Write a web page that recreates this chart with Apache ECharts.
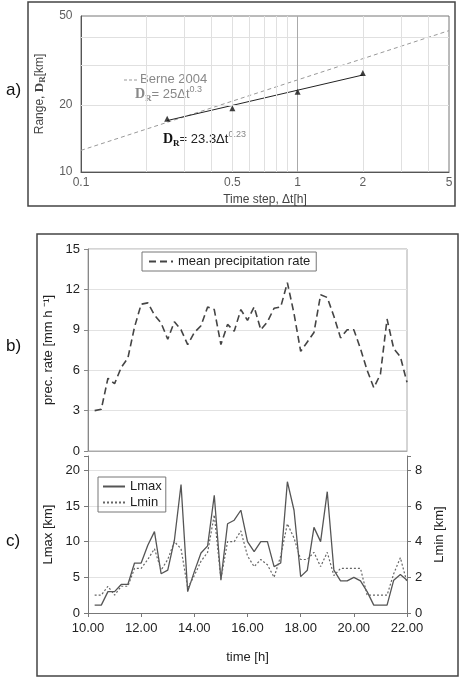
<!DOCTYPE html>
<html>
<head>
<meta charset="utf-8">
<script src="https://cdn.jsdelivr.net/npm/echarts@6/dist/echarts.min.js"></script>
<style>
html,body{margin:0;padding:0;background:#fff;}
#chart{width:465px;height:683px;}
</style>
</head>
<body>
<div id="chart"></div>
<script>
// a) range vs time step (log-log)
const stepTicks = [0.1, 0.5, 1, 2, 5];
const stepMinor = [0.2, 0.3, 0.4, 0.5, 0.6, 0.7, 0.8, 0.9, 2, 3, 4];
const rangeTicks = [10, 20, 50];
const rangeMinor = [20, 30, 40];
const stepPoints = [0.25, 0.5, 1, 2];
const rangePoints = [17.3, 19.3, 22.9, 27.8];
const fitLine = [[0.25, 17.0], [2, 27.2]];
const berneLine = [[0.1, 12.5], [5, 43.0]];

// b) and c) time series, every 15 min
const hours = [10.25, 10.5, 10.75, 11, 11.25, 11.5, 11.75, 12, 12.25, 12.5, 12.75, 13,
  13.25, 13.5, 13.75, 14, 14.25, 14.5, 14.75, 15, 15.25, 15.5, 15.75, 16,
  16.25, 16.5, 16.75, 17, 17.25, 17.5, 17.75, 18, 18.25, 18.5, 18.75, 19,
  19.25, 19.5, 19.75, 20, 20.25, 20.5, 20.75, 21, 21.25, 21.5, 21.75, 22];
const precRate = [3.0, 3.1, 5.4, 5.0, 6.2, 6.9, 9.2, 10.9, 11.0, 10.1, 9.5, 8.3,
  9.6, 9.0, 7.9, 8.8, 9.3, 10.7, 10.5, 7.9, 9.4, 8.9, 10.5, 9.7,
  10.7, 9.0, 9.6, 10.6, 10.7, 12.5, 10.2, 7.4, 8.1, 8.8, 11.6, 11.4,
  10.0, 8.4, 9.0, 9.0, 7.6, 6.0, 4.7, 5.7, 9.8, 7.6, 7.0, 5.1];
const lmax = [1.1, 1.1, 3.0, 3.0, 4.0, 4.0, 7.0, 7.0, 9.5, 11.4, 5.5, 6.0,
  10.2, 18.0, 3.0, 5.8, 8.4, 9.4, 16.5, 4.6, 12.5, 13.0, 14.4, 10.0,
  8.6, 10.0, 10.0, 6.5, 7.0, 18.4, 14.4, 5.1, 6.0, 12.0, 10.0, 17.0,
  6.0, 4.5, 4.5, 5.0, 4.5, 3.0, 1.1, 1.1, 1.1, 4.6, 5.4, 4.6];
const lmin = [1.0, 1.0, 1.5, 1.0, 1.5, 1.5, 2.5, 2.5, 3.0, 3.6, 2.4, 3.0,
  4.0, 3.6, 1.4, 2.1, 2.9, 3.4, 5.5, 1.9, 4.0, 4.0, 4.6, 3.2,
  2.6, 3.0, 2.7, 2.0, 3.2, 5.0, 4.2, 3.0, 3.0, 3.4, 2.6, 3.4,
  2.1, 2.5, 2.5, 2.5, 2.5, 1.0, 1.0, 1.0, 1.0, 2.2, 3.1, 1.7];

const font = 'Liberation Sans';
const chart = echarts.init(document.getElementById('chart'));

const pair = (xs, ys) => xs.map((x, i) => [x, ys[i]]);

const option = {
  animation: false,
  textStyle: {fontFamily: font},
  grid: [
    {left: 81, top: 16, width: 368, height: 156, show: true, borderColor: '#777', borderWidth: 1},
    {left: 88, top: 249, width: 319, height: 202, show: true, borderColor: '#aaa', borderWidth: 1},
    {left: 88, top: 456, width: 319, height: 157}
  ],
  legend: [
    {
      data: ['mean precipitation rate'], left: 142, top: 252,
      itemWidth: 24, itemGap: 4, padding: [3, 6],
      borderColor: '#777', borderWidth: 1,
      itemStyle: {opacity: 0},
      textStyle: {fontSize: 13, color: '#222', fontFamily: font}
    },
    {
      data: ['Lmax', 'Lmin'], left: 98, top: 477, orient: 'vertical',
      itemWidth: 22, itemGap: 3, padding: [3, 4],
      borderColor: '#777', borderWidth: 1,
      itemStyle: {opacity: 0},
      textStyle: {fontSize: 13, color: '#222', fontFamily: font}
    }
  ],
  xAxis: [
    {
      type: 'log', gridIndex: 0, min: 0.1, max: 5, logBase: 10,
      axisLabel: {show: false}, axisTick: {show: false}, splitLine: {show: false},
      axisLine: {lineStyle: {color: '#555'}},
      name: 'Time step, \u0394t[h]', nameLocation: 'middle', nameGap: 22,
      nameTextStyle: {fontSize: 12, color: '#444', fontFamily: font}
    },
    {
      type: 'value', gridIndex: 1, min: 10, max: 22, interval: 2,
      axisLabel: {show: false}, axisTick: {show: false}, splitLine: {show: false},
      axisLine: {lineStyle: {color: '#aaa'}}
    },
    {
      type: 'value', gridIndex: 2, min: 10, max: 22, interval: 2,
      axisLabel: {fontSize: 13, color: '#222', margin: 9, formatter: v => v.toFixed(2)},
      axisTick: {length: 4, lineStyle: {color: '#777'}},
      splitLine: {show: false},
      axisLine: {lineStyle: {color: '#777'}},
      name: 'time [h]', nameLocation: 'middle', nameGap: 38,
      nameTextStyle: {fontSize: 13, color: '#222', fontFamily: font}
    }
  ],
  yAxis: [
    {
      type: 'log', gridIndex: 0, min: 10, max: 50, logBase: 10,
      axisLabel: {show: false}, axisTick: {show: false}, splitLine: {show: false},
      axisLine: {lineStyle: {color: '#555'}},
      name: '{n|Range, }{d|D}{r|R}{n|[km]}', nameLocation: 'middle', nameGap: 34, nameRotate: 90,
      nameTextStyle: {
        color: '#444',
        rich: {
          n: {fontSize: 12, color: '#444', fontFamily: font},
          d: {fontSize: 13, color: '#444', fontWeight: 'bold', fontFamily: 'Liberation Serif'},
          r: {fontSize: 9, color: '#444', fontWeight: 'bold', fontFamily: 'Liberation Serif', padding: [5, 0, 0, 0]}
        }
      }
    },
    {
      type: 'value', gridIndex: 1, min: 0, max: 15, interval: 3,
      axisLabel: {fontSize: 13, color: '#222', margin: 8},
      axisTick: {length: 4, lineStyle: {color: '#888'}},
      axisLine: {lineStyle: {color: '#888'}},
      splitLine: {lineStyle: {color: '#e2e2e2'}},
      name: 'prec. rate [mm h \u207B\u00B9]', nameLocation: 'middle', nameGap: 28, nameRotate: 90,
      nameTextStyle: {fontSize: 13, color: '#222', fontFamily: font}
    },
    {
      type: 'value', gridIndex: 2, min: 0, max: 22, interval: 5,
      axisLabel: {fontSize: 13, color: '#222', margin: 8, formatter: v => (v > 20 ? '' : String(v))},
      axisTick: {length: 4, lineStyle: {color: '#777'}},
      axisLine: {lineStyle: {color: '#777'}},
      splitLine: {lineStyle: {color: ['transparent', '#e2e2e2', '#e2e2e2', '#e2e2e2', '#e2e2e2', 'transparent']}},
      name: 'Lmax [km]', nameLocation: 'middle', nameGap: 28, nameRotate: 90,
      nameTextStyle: {fontSize: 13, color: '#222', fontFamily: font}
    },
    {
      type: 'value', gridIndex: 2, position: 'right', min: 0, max: 8.8, interval: 2,
      axisLabel: {fontSize: 13, color: '#222', margin: 8, formatter: v => (v > 8 ? '' : String(v))},
      axisTick: {length: 4, lineStyle: {color: '#777'}},
      axisLine: {show: true, lineStyle: {color: '#777'}},
      splitLine: {show: false},
      name: 'Lmin [km]', nameLocation: 'middle', nameGap: 26, nameRotate: 90,
      nameTextStyle: {fontSize: 13, color: '#222', fontFamily: font}
    }
  ],
  series: [
    {
      name: 'Berne 2004', type: 'line', xAxisIndex: 0, yAxisIndex: 0,
      data: berneLine, symbol: 'none', z: 3,
      lineStyle: {color: '#999', width: 1, type: [4, 3]},
      markLine: {
        silent: true, symbol: ['none', 'none'], label: {show: false},
        lineStyle: {color: '#e0e0e0', width: 1, type: 'solid'},
        data: stepMinor.map(v => ({xAxis: v}))
          .concat(rangeMinor.map(v => ({yAxis: v})))
          .concat([{xAxis: 1, lineStyle: {color: '#aaa', width: 1, type: 'solid'}}])
      }
    },
    {
      name: 'fit', type: 'line', xAxisIndex: 0, yAxisIndex: 0,
      data: fitLine, symbol: 'none', z: 4,
      lineStyle: {color: '#222', width: 1}
    },
    {
      name: 'measured', type: 'scatter', xAxisIndex: 0, yAxisIndex: 0,
      data: pair(stepPoints, rangePoints), symbol: 'triangle', symbolSize: 6, z: 5,
      itemStyle: {color: '#111'}
    },
    {
      name: 'stepLabels', type: 'scatter', xAxisIndex: 0, yAxisIndex: 0, clip: false, silent: true,
      data: stepTicks.map(v => [v, 10]), symbolSize: 1, itemStyle: {color: 'transparent'},
      label: {show: true, position: 'bottom', distance: 4, fontSize: 12, color: '#333',
        fontFamily: font, formatter: p => String(p.value[0])}
    },
    {
      name: 'rangeLabels', type: 'scatter', xAxisIndex: 0, yAxisIndex: 0, clip: false, silent: true,
      data: rangeTicks.map(v => [0.1, v]), symbolSize: 1, itemStyle: {color: 'transparent'},
      label: {show: true, position: 'left', distance: 8, fontSize: 12, color: '#333',
        fontFamily: font, formatter: p => String(p.value[1])}
    },
    {
      name: 'mean precipitation rate', type: 'line', xAxisIndex: 1, yAxisIndex: 1,
      data: pair(hours, precRate), symbol: 'none',
      lineStyle: {color: '#444', width: 1.6, type: [7, 4]},
      itemStyle: {color: '#444'}
    },
    {
      name: 'Lmax', type: 'line', xAxisIndex: 2, yAxisIndex: 2,
      data: pair(hours, lmax), symbol: 'none',
      lineStyle: {color: '#555', width: 1.3},
      itemStyle: {color: '#555'}
    },
    {
      name: 'Lmin', type: 'line', xAxisIndex: 2, yAxisIndex: 3,
      data: pair(hours, lmin), symbol: 'none',
      lineStyle: {color: '#666', width: 1.2, type: [2, 2]},
      itemStyle: {color: '#666'}
    }
  ],
  graphic: [
    {type: 'rect', shape: {x: 28, y: 2, width: 427, height: 204},
      style: {fill: 'none', stroke: '#444', lineWidth: 1.5}},
    {type: 'rect', shape: {x: 37, y: 234, width: 421, height: 442},
      style: {fill: 'none', stroke: '#444', lineWidth: 1.5}},
    {type: 'text', left: 6, top: 82, style: {text: 'a)', fontSize: 17, fill: '#111', fontFamily: font}},
    {type: 'text', left: 6, top: 338, style: {text: 'b)', fontSize: 17, fill: '#111', fontFamily: font}},
    {type: 'text', left: 6, top: 533, style: {text: 'c)', fontSize: 17, fill: '#111', fontFamily: font}},
    {type: 'line', shape: {x1: 124, y1: 80, x2: 137, y2: 80},
      style: {stroke: '#999', lineWidth: 1, lineDash: [3, 2]}},
    {type: 'text', left: 140, top: 73, style: {text: 'Berne 2004', fontSize: 13, fill: '#888', fontFamily: font}},
    {type: 'text', left: 135, top: 85, style: {
      text: '{d|D}{r|R}{n|= 25\u0394t}{s|0.3}',
      rich: {
        n: {fontSize: 13, fill: '#888', fontFamily: font, verticalAlign: 'middle', lineHeight: 18},
        d: {fontSize: 14, fill: '#888', fontWeight: 'bold', fontFamily: 'Liberation Serif', verticalAlign: 'middle', lineHeight: 18},
        r: {fontSize: 9, fill: '#888', fontWeight: 'bold', fontFamily: 'Liberation Serif', verticalAlign: 'bottom', lineHeight: 18},
        s: {fontSize: 9, fill: '#888', fontFamily: font, verticalAlign: 'top', lineHeight: 18}
      }
    }},
    {type: 'text', left: 163, top: 130, style: {
      text: '{d|D}{r|R}{n|= 23.3\u0394t}{s|0.23}',
      rich: {
        n: {fontSize: 13, fill: '#222', fontFamily: font, verticalAlign: 'middle', lineHeight: 18},
        d: {fontSize: 14, fill: '#111', fontWeight: 'bold', fontFamily: 'Liberation Serif', verticalAlign: 'middle', lineHeight: 18},
        r: {fontSize: 9, fill: '#111', fontWeight: 'bold', fontFamily: 'Liberation Serif', verticalAlign: 'bottom', lineHeight: 18},
        s: {fontSize: 9, fill: '#888', fontFamily: font, verticalAlign: 'top', lineHeight: 18}
      }
    }}
  ]
};

chart.setOption(option);
</script>
</body>
</html>
